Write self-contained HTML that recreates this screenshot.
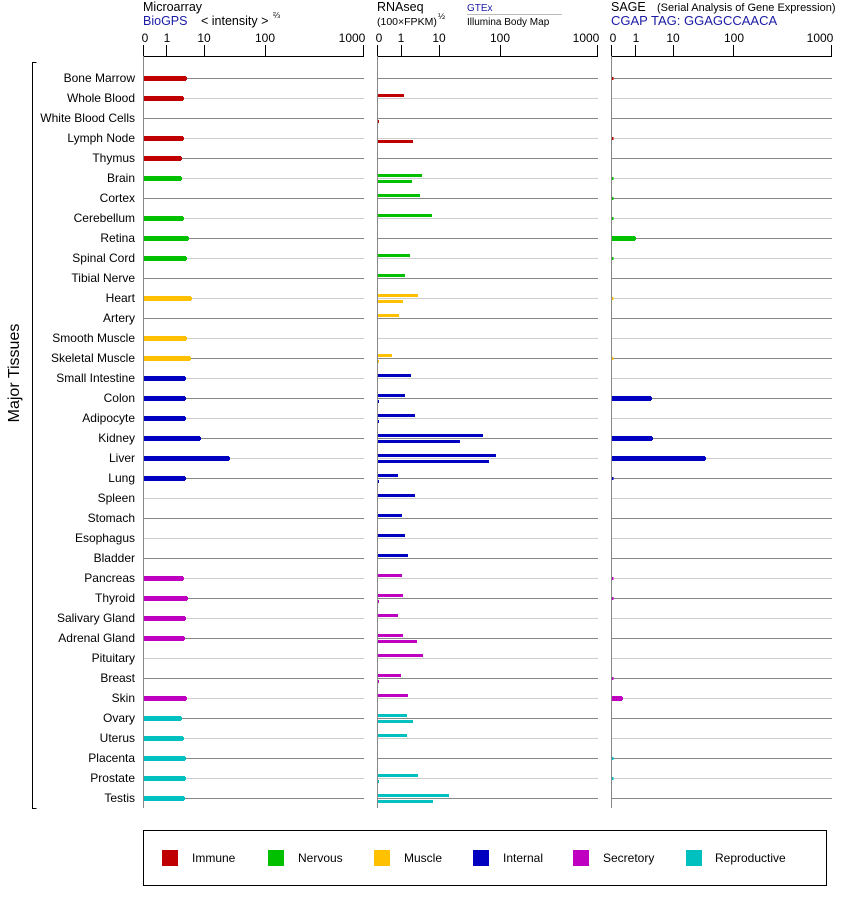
<!DOCTYPE html>
<html><head><meta charset="utf-8"><style>
body{margin:0;background:#fff}
svg{display:block;font-family:"Liberation Sans",Arial,sans-serif}
</style></head><body>
<svg width="842" height="900" xmlns="http://www.w3.org/2000/svg">
<text x="143" y="11" font-size="12.5">Microarray</text>
<text x="143" y="25" font-size="12.5" fill="#1a1aa6">BioGPS</text>
<text x="201" y="25" font-size="12.5">&lt; intensity &gt;</text>
<text x="273" y="18" font-size="8.5">⅔</text>
<text x="377" y="11" font-size="12.5">RNAseq</text>
<text x="377" y="25" font-size="10.5">(100×FPKM)</text>
<text x="438" y="19" font-size="8.5">½</text>
<text x="467" y="11" font-size="10" fill="#1a1aa6">GTEx</text>
<line x1="467" y1="14.5" x2="562" y2="14.5" stroke="#bbb"/>
<text x="467" y="25" font-size="10">Illumina Body Map</text>
<text x="611" y="11" font-size="12.5">SAGE</text>
<text x="657" y="11" font-size="11">(Serial Analysis of Gene Expression)</text>
<text x="611" y="25" font-size="13" fill="#1a1aa6">CGAP TAG: GGAGCCAACA</text>
<g font-size="12" text-anchor="middle" fill="#000">
<text x="145" y="42">0</text><text x="167" y="42">1</text><text x="204" y="42">10</text><text x="265" y="42">100</text><text x="352" y="42">1000</text>
<text x="379" y="42">0</text><text x="401" y="42">1</text><text x="439" y="42">10</text><text x="500" y="42">100</text><text x="586" y="42">1000</text>
<text x="613" y="42">0</text><text x="636" y="42">1</text><text x="673" y="42">10</text><text x="734" y="42">100</text><text x="820" y="42">1000</text>
</g>
<g stroke="#000" stroke-width="1">
<line x1="143.5" y1="56.5" x2="364" y2="56.5"/>
<line x1="143.5" y1="45" x2="143.5" y2="56"/><line x1="166.5" y1="45" x2="166.5" y2="56"/><line x1="204.5" y1="45" x2="204.5" y2="56"/><line x1="265.5" y1="45" x2="265.5" y2="56"/><line x1="363.5" y1="45" x2="363.5" y2="56"/>
<line x1="377.5" y1="56.5" x2="598" y2="56.5"/>
<line x1="377.5" y1="45" x2="377.5" y2="56"/><line x1="401.5" y1="45" x2="401.5" y2="56"/><line x1="439.5" y1="45" x2="439.5" y2="56"/><line x1="500.5" y1="45" x2="500.5" y2="56"/><line x1="597.5" y1="45" x2="597.5" y2="56"/>
<line x1="611.5" y1="56.5" x2="832" y2="56.5"/>
<line x1="611.5" y1="45" x2="611.5" y2="56"/><line x1="635.5" y1="45" x2="635.5" y2="56"/><line x1="673.5" y1="45" x2="673.5" y2="56"/><line x1="733.5" y1="45" x2="733.5" y2="56"/><line x1="831.5" y1="45" x2="831.5" y2="56"/>
</g>
<g stroke="#888"><line x1="143.5" y1="56" x2="143.5" y2="808"/><line x1="377.5" y1="56" x2="377.5" y2="808"/><line x1="611.5" y1="56" x2="611.5" y2="808"/></g>
<path d="M36.5 62.5 H32.5 V808.5 H36.5" fill="none" stroke="#000"/>
<text transform="translate(19 373) rotate(-90)" font-size="16" text-anchor="middle">Major Tissues</text>
<g id="rows"></g>
<g font-size="12" text-anchor="end" id="labels"></g>
<g id="bars"></g>
<rect x="143.5" y="830.5" width="683" height="55" fill="none" stroke="#000"/>
<g font-size="12">
<rect x="162" y="850" width="16" height="16" fill="#c00000"/><text x="192" y="862">Immune</text>
<rect x="268" y="850" width="16" height="16" fill="#00c000"/><text x="298" y="862">Nervous</text>
<rect x="374" y="850" width="16" height="16" fill="#ffc000"/><text x="404" y="862">Muscle</text>
<rect x="473" y="850" width="16" height="16" fill="#0000c0"/><text x="503" y="862">Internal</text>
<rect x="573" y="850" width="16" height="16" fill="#c000c0"/><text x="603" y="862">Secretory</text>
<rect x="686" y="850" width="16" height="16" fill="#00c0c0"/><text x="715" y="862">Reproductive</text>
</g>
</svg>
<script>
var R="#c00000",G="#00c000",Y="#ffc000",B="#0000c0",M="#c000c0",C="#00c0c0";
var d=[
["Bone Marrow",R,186,0,0,613],["Whole Blood",R,183,404,0,0],["White Blood Cells",R,0,0,379,0],
["Lymph Node",R,183,0,413,613],["Thymus",R,181,0,0,0],["Brain",G,181,422,412,613],
["Cortex",G,0,420,0,613],["Cerebellum",G,183,432,0,613],["Retina",G,188,0,0,635],
["Spinal Cord",G,186,410,0,613],["Tibial Nerve",G,0,405,0,0],["Heart",Y,191,418,403,613],
["Artery",Y,0,399,0,0],["Smooth Muscle",Y,186,0,0,0],["Skeletal Muscle",Y,190,392,379,613],
["Small Intestine",B,185,411,0,0],["Colon",B,185,405,379,651],["Adipocyte",B,185,415,379,0],
["Kidney",B,200,483,460,652],["Liver",B,229,496,489,705],["Lung",B,185,398,379,613],
["Spleen",B,0,415,0,0],["Stomach",B,0,402,0,0],["Esophagus",B,0,405,0,0],["Bladder",B,0,408,0,0],
["Pancreas",M,183,402,0,613],["Thyroid",M,187,403,379,613],["Salivary Gland",M,185,398,0,0],
["Adrenal Gland",M,184,403,417,0],["Pituitary",M,0,423,0,0],["Breast",M,0,401,379,613],
["Skin",M,186,408,0,622],["Ovary",C,181,407,413,0],["Uterus",C,183,407,0,0],
["Placenta",C,185,0,0,613],["Prostate",C,185,418,379,613],["Testis",C,184,449,433,0]];
var ns="http://www.w3.org/2000/svg";
function el(p,t,a,txt){var e=document.createElementNS(ns,t);for(var k in a)e.setAttribute(k,a[k]);if(txt)e.textContent=txt;document.getElementById(p).appendChild(e);}
d.forEach(function(r,i){var y=78+20*i;var c=i%2?"#ccc":"#888";
[[144,364],[378,598],[612,832]].forEach(function(s){el("rows","line",{x1:s[0],y1:y+.5,x2:s[1],y2:y+.5,stroke:c})});
el("labels","text",{x:135,y:y+4},r[0]);
if(r[2]){el("bars","rect",{x:144,y:y-2,width:r[2]-144,height:5,fill:r[1]});el("bars","rect",{x:r[2]-1,y:y-1,width:2,height:3,fill:r[1]});}
if(r[3])el("bars","rect",{x:378,y:y-4,width:r[3]-378,height:3,fill:r[1]});
if(r[4])el("bars","rect",{x:378,y:y+2,width:r[4]-378,height:3,fill:r[1]});
if(r[5]){if(r[5]>615){el("bars","rect",{x:612,y:y-2,width:r[5]-612,height:5,fill:r[1]});el("bars","rect",{x:r[5]-1,y:y-1,width:2,height:3,fill:r[1]});}
else el("bars","rect",{x:612,y:y-1,width:1.5,height:3,fill:r[1]});}
});
</script>
</body></html>
